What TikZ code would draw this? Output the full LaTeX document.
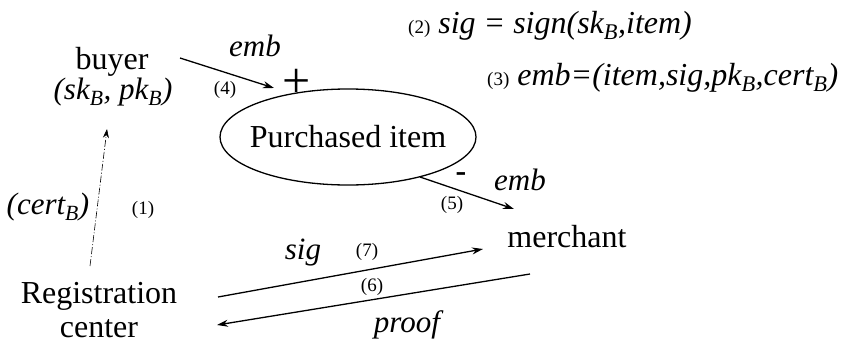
\documentclass[tikz,border=0pt]{standalone}
\usepackage{fontspec}
\setmainfont{Liberation Serif}
\usetikzlibrary{arrows.meta,shapes.geometric}
\newcommand{\subB}{\textsubscript{\textit{B}}}

\begin{document}
\begin{tikzpicture}[x=1pt, y=-1pt, >={Stealth[length=11pt,width=7pt]},
  ent/.style={font=\fontsize{32}{34}\selectfont, align=center, inner sep=0pt},
  msg/.style={font=\fontsize{31}{32}\selectfont\itshape, inner sep=0pt},
  num/.style={font=\fontsize{19}{21}\selectfont, inner sep=0pt},
  flow/.style={->, line width=1.3pt}]
\useasboundingbox (0,0) rectangle (845,343);
% parties
\node[ent] (buyer) at (112,62) {buyer};
\node[msg] (keys) at (113,92) {(sk\subB, pk\subB)};
\node[ent, ellipse, draw, line width=1.3pt, inner xsep=-30pt, minimum width=256pt, minimum height=96pt] (item) at (348,137) {Purchased item};
\node[ent] (merchant) at (567,237) {merchant};
\node[ent] (reg) at (99,310) {Registration\\center};
% protocol steps
\node[msg, font=\fontsize{32}{34}\selectfont\itshape, anchor=base west] (s2) at (408,33) {{\upshape\fontsize{19}{20}\selectfont(2)} sig = sign(sk\subB,item)};
\node[msg, font=\fontsize{32}{34}\selectfont\itshape, anchor=base west] (s3) at (487,85) {{\upshape\fontsize{19}{20}\selectfont(3)} emb=(item,sig,pk\subB,cert\subB)};
% end points
\coordinate (b4) at (180,58);  \coordinate (i4) at (274,88);
\coordinate (i5) at (420,177); \coordinate (m5) at (514,209);
\coordinate (r7) at (218,297); \coordinate (m7) at (483,249);
\coordinate (m6) at (530,274); \coordinate (r6) at (217,325);
\coordinate (r1) at (90,266);  \coordinate (b1) at (107,129);
\draw[flow] (b4) -- (i4);
\draw[flow] (i5) -- (m5);
\draw[flow] (r7) -- (m7);
\draw[flow] (m6) -- (r6);
\draw[->, line width=0.6pt, dash pattern=on 7pt off 2pt on 1pt off 2pt, >={Stealth[length=9pt,width=6pt]}] (r1) -- (b1);
% labels
\node[msg] (emb4) at (255,46) {emb};
\node[num] (n4) at (225,90) {(4)};
\node[inner sep=0pt, font=\fontsize{50}{50}\selectfont] (plus) at (297,83) {+};
\node[inner sep=0pt, font=\fontsize{32}{32}\selectfont\bfseries] (minus) at (461,177) {-};
\node[msg] (emb5) at (520,180) {emb};
\node[num] (n5) at (452,205) {(5)};
\node[msg] (cert) at (48,207) {(cert\subB)};
\node[num] (n1) at (143,210) {(1)};
\node[msg] (sig) at (303,253) {sig};
\node[num] (n7) at (367,252) {(7)};
\node[num] (n6) at (372,287) {(6)};
\node[msg] (proof) at (407,325) {proof};
\end{tikzpicture}
\end{document}
